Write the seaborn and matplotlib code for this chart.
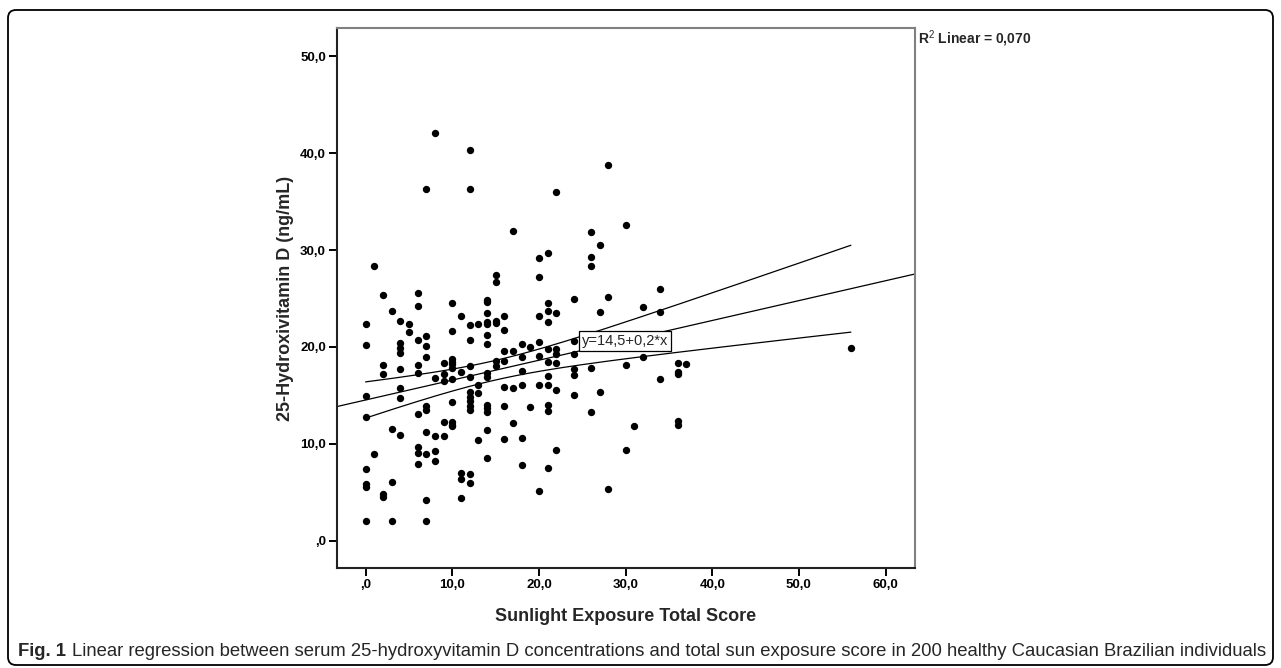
import numpy as np
import pandas as pd
import matplotlib
matplotlib.use("Agg")
import matplotlib.pyplot as plt
import seaborn as sns
from matplotlib.patches import FancyBboxPatch
from matplotlib.ticker import FuncFormatter

# points, one line per sunlight score value
sun_score = [
    0, 0, 0, 0, 0, 0, 0, 0,
    1, 1,
    2, 2, 2, 2, 2,
    3, 3, 3, 3,
    4, 4, 4, 4, 4, 4, 4, 4,
    5, 5,
    6, 6, 6, 6, 6, 6, 6, 6, 6,
    7, 7, 7, 7, 7, 7, 7, 7, 7, 7,
    8, 8, 8, 8, 8,
    9, 9, 9, 9, 9,
    10, 10, 10, 10, 10, 10, 10, 10, 10, 10, 10,
    11, 11, 11, 11, 11,
    12, 12, 12, 12, 12, 12, 12, 12, 12, 12, 12, 12, 12,
    13, 13, 13, 13,
    14, 14, 14, 14, 14, 14, 14, 14, 14, 14, 14, 14, 14, 14,
    15, 15, 15, 15, 15, 15,
    16, 16, 16, 16, 16, 16, 16,
    17, 17, 17, 17,
    18, 18, 18, 18, 18, 18,
    19, 19,
    20, 20, 20, 20, 20, 20, 20,
    21, 21, 21, 21, 21, 21, 21, 21, 21, 21, 21,
    22, 22, 22, 22, 22, 22, 22,
    24, 24, 24, 24, 24, 24,
    26, 26, 26, 26, 26,
    27, 27, 27,
    28, 28, 28,
    30, 30, 30,
    31,
    32, 32,
    34, 34, 34,
    36, 36, 36, 36, 36,
    37,
    56,
]
vit_d = [
    22.4, 20.2, 14.9, 12.8, 7.4, 5.9, 5.6, 2.0,
    28.3, 9.0,
    25.4, 18.1, 17.2, 4.8, 4.5,
    23.7, 11.5, 6.1, 2.0,
    22.7, 20.4, 19.9, 19.4, 17.7, 15.8, 14.7, 10.9,
    22.4, 21.5,
    25.6, 24.2, 20.7, 18.1, 17.3, 13.1, 9.7, 9.1, 7.9,
    36.3, 21.1, 20.1, 19.0, 13.9, 13.5, 11.2, 9.0, 4.2, 2.0,
    42.1, 16.8, 10.8, 9.3, 8.2,
    18.3, 17.2, 16.5, 12.3, 10.8,
    24.5, 21.6, 18.8, 18.5, 18.2, 17.8, 16.7, 14.3, 12.3, 12.0, 11.8,
    23.2, 17.4, 7.0, 6.4, 4.4,
    40.3, 36.3, 22.3, 20.7, 18.0, 16.9, 15.4, 14.8, 14.4, 13.9, 13.5, 6.9, 6.0,
    22.4, 16.1, 15.2, 10.4,
    24.8, 24.6, 23.5, 22.6, 22.4, 21.2, 20.3, 17.3, 16.9, 14.0, 13.7, 13.3, 11.4, 8.5,
    27.4, 26.7, 22.7, 22.5, 18.6, 18.0,
    23.2, 21.8, 19.6, 18.6, 15.9, 13.9, 10.5,
    32.0, 19.6, 15.8, 12.2,
    20.3, 19.0, 17.5, 16.1, 10.6, 7.8,
    20.0, 13.8,
    29.2, 27.2, 23.2, 20.5, 19.1, 16.1, 5.1,
    29.7, 24.5, 23.7, 22.6, 19.8, 18.4, 17.0, 16.1, 14.0, 13.4, 7.5,
    36.0, 23.5, 19.8, 19.3, 18.3, 15.6, 9.4,
    24.9, 20.6, 19.3, 17.7, 17.1, 15.0,
    31.9, 29.3, 28.4, 17.8, 13.3,
    30.5, 23.6, 15.4,
    38.8, 25.2, 5.3,
    32.6, 18.1, 9.4,
    11.8,
    24.1, 19.0,
    26.0, 23.6, 16.7,
    18.3, 17.4, 17.2, 12.4, 11.9,
    18.2,
    19.9,
]
# fitted line as drawn in the chart (y = 14,5 + 0,2*x)
fit_intercept = 14.53
fit_slope = 0.205
n_subjects = 200

x_ticks = [0, 10, 20, 30, 40, 50, 60]
y_ticks = [0, 10, 20, 30, 40, 50]
eq_label = "y=14,5+0,2*x"
r2_label = r"R$^{\mathrm{2}}$ Linear = 0,070"
caption_bold = "Fig. 1"
caption_text = ("Linear regression between serum 25-hydroxyvitamin D concentrations and "
                "total sun exposure score in 200 healthy Caucasian Brazilian individuals")

sns.set_style("white")
plt.rcParams["font.family"] = ["Liberation Sans", "DejaVu Sans"]
plt.rcParams["mathtext.fontset"] = "custom"
plt.rcParams["mathtext.rm"] = "Liberation Sans"

df = pd.DataFrame({"score": sun_score, "vitd": vit_d})

fig = plt.figure(figsize=(12.81, 6.68), dpi=100)
W, H = 1281, 668
ax = fig.add_axes([337 / W, 1 - 568 / H, (915 - 337) / W, (568 - 28) / H])

sns.scatterplot(data=df, x="score", y="vitd", ax=ax, s=28, color="black",
                linewidth=0, zorder=3)

# fit line across the whole plot
ax.axline((0, fit_intercept), slope=fit_slope, color="black", lw=0.9)

# 95% confidence band of the mean, two lines over the data range
x = df["score"].to_numpy(float)
y = df["vitd"].to_numpy(float)
resid = y - (fit_intercept + fit_slope * x)
s = np.sqrt(np.sum(resid ** 2) / (len(x) - 2))
xs = np.linspace(x.min(), x.max(), 200)
se = s * np.sqrt(1 / n_subjects + (xs - x.mean()) ** 2 / np.sum((x - x.mean()) ** 2)
                 * len(x) / n_subjects)
yfit = fit_intercept + fit_slope * xs
ax.plot(xs, yfit + 1.972 * se, color="black", lw=0.9)
ax.plot(xs, yfit - 1.972 * se, color="black", lw=0.9)

ax.set_xlim(-3.3, 63.4)
ax.set_ylim(-2.8, 52.9)

ax.text(24.95, 20.6, eq_label, fontsize=10.5, ha="left", va="center", zorder=5,
        bbox=dict(boxstyle="square,pad=0.22", fc="white", ec="black", lw=0.9))

fmt = FuncFormatter(lambda v, p: f"{v:.1f}".replace(".", ",").lstrip("0") if v == 0
                    else f"{v:.1f}".replace(".", ","))
ax.set_xticks(x_ticks)
ax.set_yticks(y_ticks)
ax.xaxis.set_major_formatter(fmt)
ax.yaxis.set_major_formatter(fmt)
ax.tick_params(direction="out", length=6, width=1.4, labelsize=9.5, pad=2,
               bottom=True, left=True, colors="black")
for lbl in ax.get_xticklabels() + ax.get_yticklabels():
    lbl.set_fontweight("bold")

for side in ["left", "bottom"]:
    ax.spines[side].set_color("#222222")
    ax.spines[side].set_linewidth(1.5)
for side in ["top", "right"]:
    ax.spines[side].set_color("#808080")
    ax.spines[side].set_linewidth(1.5)

ax.set_xlabel("Sunlight Exposure Total Score", fontsize=13, fontweight="bold", labelpad=12)
ax.set_ylabel("25-Hydroxivitamin D (ng/mL)", fontsize=13, fontweight="bold", labelpad=4)

fig.text(918 / W, 1 - 39 / H, r2_label, fontsize=10, fontweight="bold",
         ha="left", va="center")

# caption under the chart
t1 = fig.text(18 / W, 1 - 652 / H, caption_bold, fontsize=13.3, fontweight="bold",
              ha="left", va="center")
ax.annotate(caption_text, xy=(1, 0.5), xycoords=t1, xytext=(4, 0),
            textcoords="offset points", fontsize=13.3,
            ha="left", va="center", annotation_clip=False)

frame = FancyBboxPatch((8, 3), 1265, 655, boxstyle="round,pad=0,rounding_size=8",
                       transform=None, fc="none", ec="black", lw=1.3)
fig.patches.append(frame)

fig.savefig("out.png", dpi=100)
